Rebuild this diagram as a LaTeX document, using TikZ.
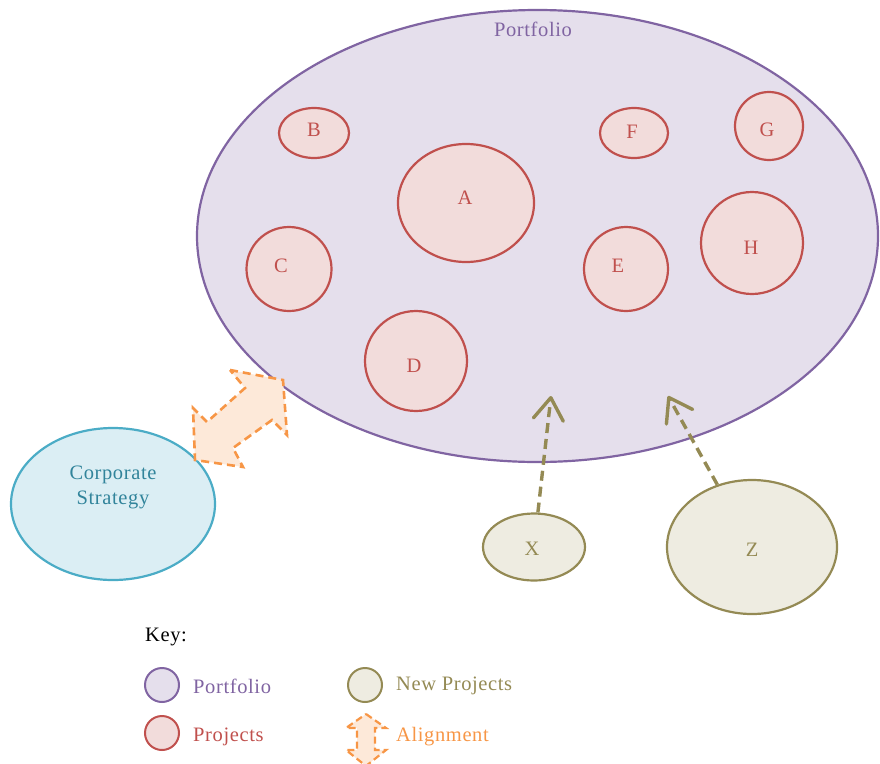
\documentclass[tikz,border=0pt]{standalone}
\usepackage{fontspec}
\setmainfont{Liberation Serif}[LetterSpace=3]
\usetikzlibrary{arrows.meta,shapes.geometric}
\definecolor{pfill}{HTML}{E5DFEC}
\definecolor{pline}{HTML}{8064A2}
\definecolor{rfill}{HTML}{F2DCDB}
\definecolor{rline}{HTML}{C0504D}
\definecolor{bfill}{HTML}{DBEEF4}
\definecolor{bline}{HTML}{4BACC6}
\definecolor{btext}{HTML}{31849B}
\definecolor{nfill}{HTML}{EEECE1}
\definecolor{nline}{HTML}{948A54}
\definecolor{ofill}{HTML}{FDE9D9}
\definecolor{oline}{HTML}{F79646}
\tikzset{
  txt/.style={font=\fontsize{20.5}{23}\selectfont},
  portf/.style={ellipse,draw=pline,fill=pfill,line width=2.2pt,inner sep=0pt},
  proj/.style={ellipse,draw=rline,fill=rfill,line width=2.2pt,inner sep=0pt,text=rline,txt},
  plab/.style={txt,text=rline,inner sep=0pt},
  strat/.style={ellipse,draw=bline,fill=bfill,line width=2.2pt,inner sep=0pt,text=btext,txt,align=center},
  newp/.style={ellipse,draw=nline,fill=nfill,line width=2.2pt,inner sep=0pt,text=nline,txt},
  newarrow/.style={draw=nline,line width=3.4pt,dash pattern=on 10pt off 6pt,-{Straight Barb[length=22pt,width=30pt,line width=3.4pt,line cap=round,line join=round]}},
  alignarrow/.style={draw=oline,fill=ofill,line width=2.6pt,dash pattern=on 8pt off 5pt,line join=miter},
  keytext/.style={txt,anchor=west,inner sep=0pt}
}
\begin{document}
\begin{tikzpicture}[x=1pt,y=-1pt]
\useasboundingbox (0,0) rectangle (880,763);
% portfolio
\node[portf,minimum width=681pt,minimum height=452pt] (P) at (537.5,236) {};
\node[txt,text=pline] (Plab) at (533,29) {Portfolio};
% projects
\node[proj,minimum width=70pt,minimum height=50pt,label={[plab,yshift=3pt]center:B}] (B) at (314,133) {};
\node[proj,minimum width=68pt,minimum height=50pt,label={[plab,xshift=-2pt,yshift=1pt]center:F}] (F) at (634,133) {};
\node[proj,minimum width=68pt,minimum height=68pt,label={[plab,xshift=-2pt,yshift=-4pt]center:G}] (G) at (769,126) {};
\node[proj,minimum width=136pt,minimum height=118pt,label={[plab,xshift=-1pt,yshift=5pt]center:A}] (A) at (466,203) {};
\node[proj,minimum width=85pt,minimum height=84pt,label={[plab,xshift=-8pt,yshift=3pt]center:C}] (C) at (289,269) {};
\node[proj,minimum width=84pt,minimum height=84pt,label={[plab,xshift=-8pt,yshift=3pt]center:E}] (E) at (626,269) {};
\node[proj,minimum width=102pt,minimum height=102pt,label={[plab,xshift=-1pt,yshift=-5pt]center:H}] (H) at (752,243) {};
\node[proj,minimum width=102pt,minimum height=100pt,label={[plab,xshift=-2pt,yshift=-5pt]center:D}] (D) at (416,361) {};
% corporate strategy
\node[strat,minimum width=204pt,minimum height=152pt] (S) at (113,504) {Corporate\\[2pt]Strategy\\[14pt]};
% new projects
\node[newp,minimum width=102pt,minimum height=67pt,label={[txt,text=nline,xshift=-2pt,yshift=-2pt]center:X}] (X) at (534,547) {};
\node[newp,minimum width=170pt,minimum height=134pt,label={[txt,text=nline,yshift=-3pt]center:Z}] (Z) at (752,547) {};
\coordinate (xt) at (551,396);
\coordinate (zt) at (668,396);
\draw[newarrow] (X) -- (xt);
\draw[newarrow] (Z) -- (zt);
% alignment double arrow
\draw[alignarrow] (230,370) -- (283,380) -- (287,435) -- (272,420) -- (233,448) -- (243,467)
  -- (195,460) -- (193,408) -- (207,422) -- (245,388) -- cycle;
% key
\node[txt,anchor=west,inner sep=0pt] (key) at (145,637) {Key:};
\node[portf,minimum width=34pt,minimum height=34pt,line width=2pt] (k1) at (162,685) {};
\node[keytext,text=pline] (k1t) at (193,686) {Portfolio};
\node[proj,minimum width=34pt,minimum height=34pt,line width=2pt] (k2) at (162,733) {};
\node[keytext,text=rline] (k2t) at (193,737) {Projects};
\node[newp,minimum width=34pt,minimum height=34pt,line width=2pt] (k3) at (365,685) {};
\node[keytext,text=nline] (k3t) at (396,686) {New Projects};
\draw[alignarrow,line width=2.2pt,dash pattern=on 7pt off 4pt] (366,714) -- (386,728) -- (375,728) -- (375,750) -- (386,750)
  -- (366,766) -- (346,750) -- (357,750) -- (357,728) -- (346,728) -- cycle;
\node[keytext,text=oline] (k4t) at (396,737) {Alignment};
\end{tikzpicture}
\end{document}
